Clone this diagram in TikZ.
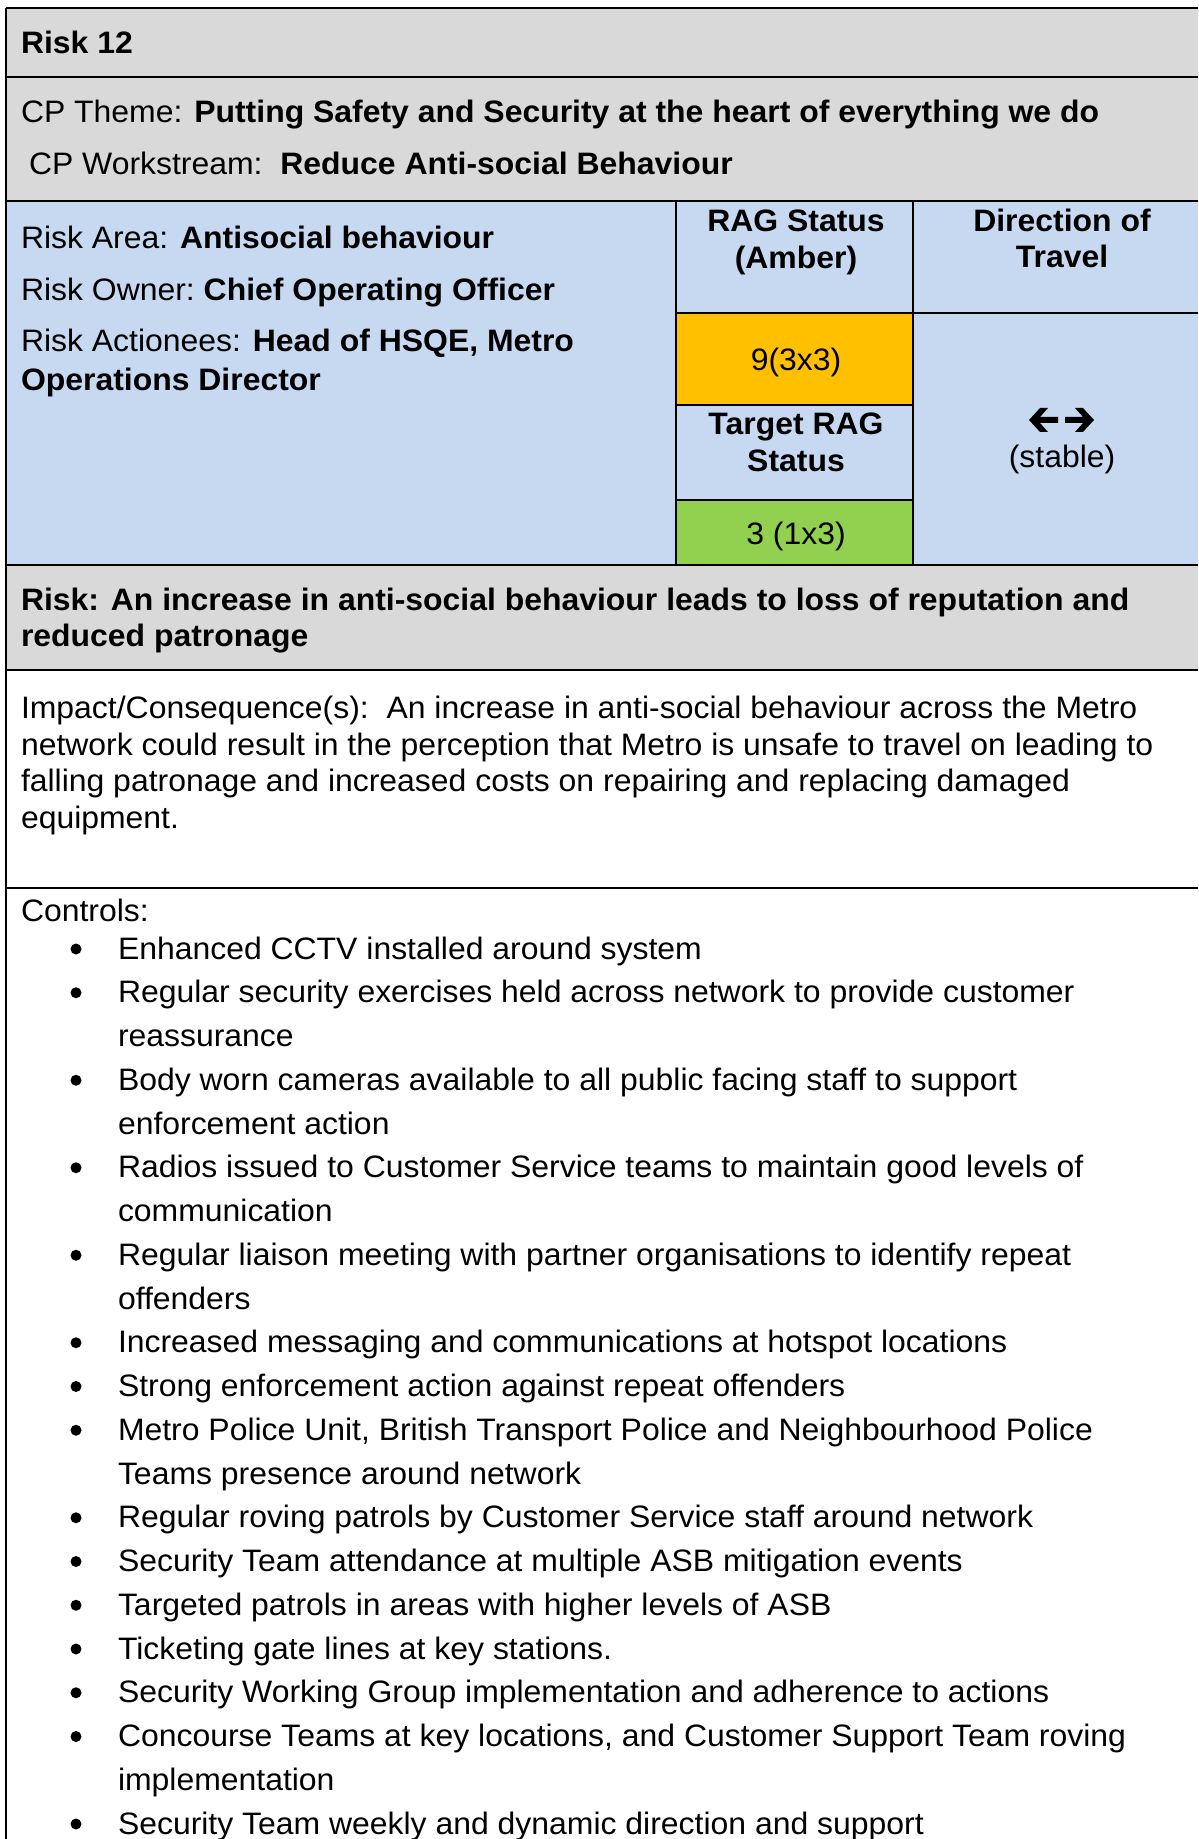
\documentclass[tikz,border=0pt]{standalone}
\usepackage{fontspec}
\setmainfont[FakeStretch=1.03]{Liberation Sans}
\definecolor{hdrgray}{HTML}{D9D9D9}
\definecolor{cellblue}{HTML}{C6D9F1}
\definecolor{amber}{HTML}{FFC000}
\definecolor{ragreen}{HTML}{92D050}
\newcommand{\fs}{\fontsize{15.5pt}{18pt}\selectfont}
\begin{document}
\begin{tikzpicture}[x=0.5pt,y=-0.5pt,
  txt/.style={anchor=base west,inner sep=0pt,outer sep=0pt,font=\fs},
  ctr/.style={anchor=base,inner sep=0pt,outer sep=0pt,font=\fs},
  rule/.style={line width=1pt,black},
  dot/.style={fill=black,draw=none}]
\useasboundingbox (0,0) rectangle (1198,1839);
% fills
\fill[hdrgray] (6,8) rectangle (1198,201);
\fill[cellblue] (6,201) rectangle (1198,565);
\fill[amber] (676,313) rectangle (913,405);
\fill[ragreen] (676,500) rectangle (913,565);
\fill[hdrgray] (6,565) rectangle (1198,670);
% rules
\draw[rule] (6,8) -- (1198,8);
\draw[rule] (6,77) -- (1198,77);
\draw[rule] (6,201) -- (1198,201);
\draw[rule] (6,565) -- (1198,565);
\draw[rule] (6,670) -- (1198,670);
\draw[rule] (6,888) -- (1198,888);
\draw[rule] (6,8) -- (6,1839);
\draw[rule] (676,201) -- (676,565);
\draw[rule] (913,201) -- (913,565);
\draw[rule] (676,313) -- (1198,313);
\draw[rule] (676,405) -- (913,405);
\draw[rule] (676,500) -- (913,500);
% header texts
\node[txt] (risk12) at (21,54) {\textbf{Risk 12}};
\node[txt] (theme) at (21,123) {CP Theme: \textbf{Putting Safety and Security at the heart of everything we do}};
\node[txt] (wstream) at (29,175) {CP Workstream:\ \ \textbf{Reduce Anti-social Behaviour}};
\node[txt] (area) at (21,248.5) {Risk Area: \textbf{Antisocial behaviour}};
\node[txt] (owner) at (21,300.5) {Risk Owner:\ \textbf{Chief Operating Officer}};
\node[txt] (actA) at (21,351.5) {Risk Actionees: \textbf{Head of HSQE, Metro}};
\node[txt] (actB) at (21,390.5) {\textbf{Operations Director}};
\node[ctr] (ragA) at (796,232) {\textbf{RAG Status}};
\node[ctr] (ragB) at (796,269) {\textbf{(Amber)}};
\node[ctr] (dirA) at (1062,232) {\textbf{Direction of}};
\node[ctr] (dirB) at (1062,268) {\textbf{Travel}};
\node[ctr] (score) at (796,371) {9(3x3)};
\node[ctr] (tgtA) at (796,435) {\textbf{Target RAG}};
\node[ctr] (tgtB) at (796,472) {\textbf{Status}};
\node[ctr] (tscore) at (796,545) {3 (1x3)};
\node[ctr] (stable) at (1062,468) {(stable)};
% stable arrows
\fill (1029,420) -- (1040,408) -- (1048,408) -- (1040,417) -- (1058,417) -- (1058,423) -- (1040,423) -- (1048,432) -- (1040,432) -- cycle;
\fill (1094,420) -- (1083,408) -- (1075,408) -- (1083,417) -- (1065,417) -- (1065,423) -- (1083,423) -- (1075,432) -- (1083,432) -- cycle;
% risk statement
\node[txt] (riskA) at (21,610) {\textbf{Risk: An increase in anti-social behaviour leads to loss of reputation and}};
\node[txt] (riskB) at (21,646) {\textbf{reduced patronage}};
% impact
\node[txt] (impA) at (21,718) {Impact/Consequence(s):\ \ An increase in anti-social behaviour across the Metro};
\node[txt] (impB) at (21,755) {network could result in the perception that Metro is unsafe to travel on leading to};
\node[txt] (impC) at (21,791) {falling patronage and increased costs on repairing and replacing damaged};
\node[txt] (impD) at (21,828) {equipment.};
% controls
\node[txt] (ctl) at (21,921) {Controls:};
\node[txt] (c1) at (118,959) {Enhanced CCTV installed around system};
\node[txt] (c2a) at (118,1002.75) {Regular security exercises held across network to provide customer};
\node[txt] (c2b) at (118,1046.5) {reassurance};
\node[txt] (c3a) at (118,1090.25) {Body worn cameras available to all public facing staff to support};
\node[txt] (c3b) at (118,1134) {enforcement action};
\node[txt] (c4a) at (118,1177.75) {Radios issued to Customer Service teams to maintain good levels of};
\node[txt] (c4b) at (118,1221.5) {communication};
\node[txt] (c5a) at (118,1265.25) {Regular liaison meeting with partner organisations to identify repeat};
\node[txt] (c5b) at (118,1309) {offenders};
\node[txt] (c6) at (118,1352.75) {Increased messaging and communications at hotspot locations};
\node[txt] (c7) at (118,1396.5) {Strong enforcement action against repeat offenders};
\node[txt] (c8a) at (118,1440.25) {Metro Police Unit, British Transport Police and Neighbourhood Police};
\node[txt] (c8b) at (118,1484) {Teams presence around network};
\node[txt] (c9) at (118,1527.75) {Regular roving patrols by Customer Service staff around network};
\node[txt] (c10) at (118,1571.5) {Security Team attendance at multiple ASB mitigation events};
\node[txt] (c11) at (118,1615.25) {Targeted patrols in areas with higher levels of ASB};
\node[txt] (c12) at (118,1659) {Ticketing gate lines at key stations.};
\node[txt] (c13) at (118,1702.75) {Security Working Group implementation and adherence to actions};
\node[txt] (c14a) at (118,1746.5) {Concourse Teams at key locations, and Customer Support Team roving};
\node[txt] (c14b) at (118,1790.25) {implementation};
\node[txt] (c15) at (118,1834) {Security Team weekly and dynamic direction and support};
% bullets
\foreach \by in {959,1002.75,1090.25,1177.75,1265.25,1352.75,1396.5,1440.25,1527.75,1571.5,1615.25,1659,1702.75,1746.5,1834}
  \fill[dot] (76,\by-10) circle[radius=5.5];
\end{tikzpicture}
\end{document}
